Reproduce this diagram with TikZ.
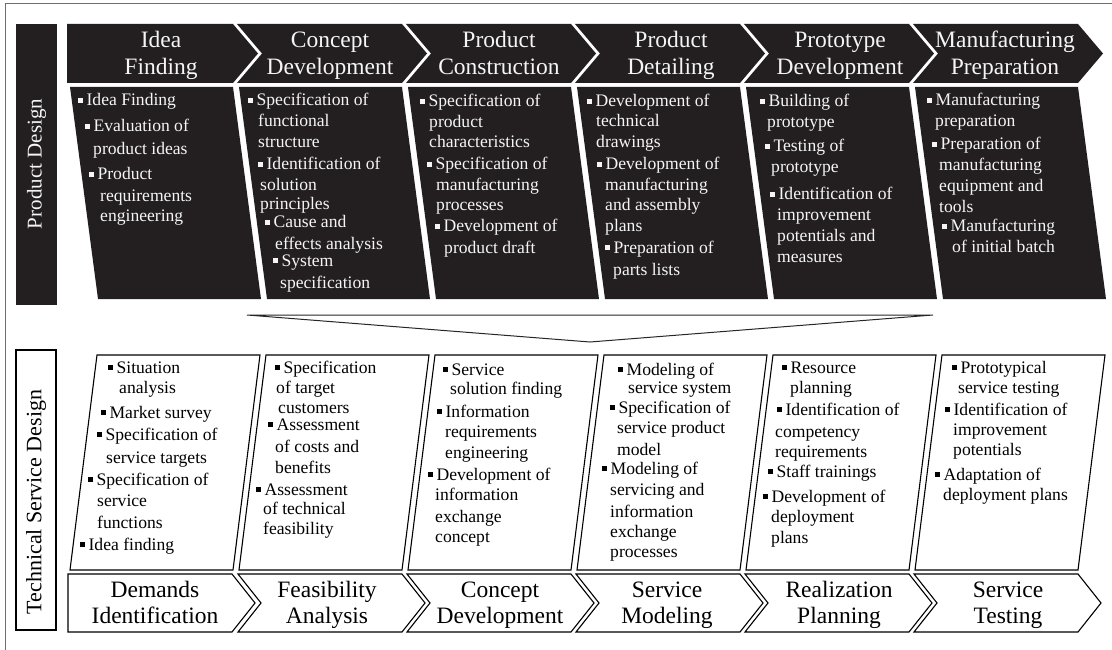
\documentclass[tikz,border=0pt]{standalone}
\usepackage{fontspec}
\setmainfont{Liberation Serif}
\definecolor{dk}{RGB}{35,31,32}
\definecolor{frm}{RGB}{110,110,110}
\definecolor{wt}{RGB}{245,245,245}
\newcommand\bl{\raisebox{3.3pt}{\rule{4.6pt}{4.6pt}}\hspace{3.8pt}}
\begin{document}
\begin{tikzpicture}[x=1pt,y=-1pt,
 wtxt/.style={anchor=base west,inner sep=0pt,text=wt,font=\fontsize{17.6}{21}\selectfont},
 btxt/.style={anchor=base west,inner sep=0pt,text=black,font=\fontsize{17.6}{21}\selectfont},
 whead/.style={anchor=base,inner sep=0pt,text=wt,font=\fontsize{23.5}{27}\selectfont},
 bhead/.style={anchor=base,inner sep=0pt,text=black,font=\fontsize{23.5}{27}\selectfont},
 dshape/.style={fill=dk,draw=none},
 lshape/.style={fill=white,draw=black,line width=1.1pt,line join=miter},
]
\useasboundingbox (0,0) rectangle (1112,650);
% outer frame
\draw[frm,line width=1.5pt] (5.5,650) -- (5.5,3.5) -- (1112,3.5);

% side labels
\fill[dk] (16,24) rectangle (57,305);
\node[rotate=90,text=wt,font=\fontsize{21}{24}\selectfont,inner sep=0pt] (pd) at (36.5,164) {Product Design};
\draw[black,line width=1.1pt,fill=white] (16,350) rectangle (56,630);
\node[rotate=90,text=black,font=\fontsize{22}{24}\selectfont,inner sep=0pt] (tsd) at (36,502) {Technical Service Design};

% top chevrons
\fill[dshape] (67,24) -- (233,24) -- (258,53.5) -- (233,83) -- (67,83) -- cycle;
\foreach \i in {1,...,5}{
  \pgfmathsetmacro\c{70+169*\i}
  \fill[dshape] (\c-2,24) -- (\c+163,24) -- (\c+188,53.5) -- (\c+163,83) -- (\c-2,83) -- (\c+23,53.5) -- cycle;
}
% top boxes
\foreach \i in {0,...,5}{
  \pgfmathsetmacro\c{70+169*\i}
  \fill[dshape] (\c,87) -- (\c+163,87) -- (\c+191,299) -- (\c+28,299) -- cycle;
}
% funnel
\draw[black!85,line width=1pt,line join=miter] (247,315) -- (933,315) -- (590,342) -- cycle;
% bottom boxes
\foreach \i in {0,...,5}{
  \pgfmathsetmacro\c{70+169*\i}
  \draw[lshape] (\c+27,355) -- (\c+190,355) -- (\c+163,570) -- (\c,570) -- cycle;
}
% bottom chevrons
\draw[lshape] (68,574) -- (232,574) -- (255,603) -- (232,632) -- (68,632) -- cycle;
\foreach \i in {1,...,5}{
  \pgfmathsetmacro\c{70+169*\i}
  \draw[lshape] (\c-1,574) -- (\c+163,574) -- (\c+186,603) -- (\c+163,632) -- (\c-1,632) -- (\c+22,603) -- cycle;
}

% headings
\foreach \x/\a/\b [count=\k] in {161/Idea/Finding,330/Concept/Development,499/Product/Construction,671/Product/Detailing,840/Prototype/Development,1005/Manufacturing/Preparation}{
  \node[whead] (tha\k) at (\x,48) {\a};
  \node[whead] (thb\k) at (\x,75) {\b};
}
\foreach \x/\a/\b [count=\k] in {155/Demands/Identification,327/Feasibility/Analysis,500/Concept/Development,667/Service/Modeling,839/Realization/Planning,1008/Service/Testing}{
  \node[bhead] (bha\k) at (\x,597) {\a};
  \node[bhead] (bhb\k) at (\x,623) {\b};
}

% top box 1
\node[wtxt] (a11) at (78,106) {\bl Idea Finding};
\node[wtxt] (a12) at (85,132) {\bl Evaluation of};
\node[wtxt] (a13) at (93,155) {product ideas};
\node[wtxt] (a14) at (89,180) {\bl Product};
\node[wtxt] (a15) at (100,201) {requirements};
\node[wtxt] (a16) at (100,222) {engineering};
% top box 2
\node[wtxt] (a21) at (248,106) {\bl Specification of};
\node[wtxt] (a22) at (258,127) {functional};
\node[wtxt] (a23) at (258,148) {structure};
\node[wtxt] (a24) at (258,170) {\bl Identification of};
\node[wtxt] (a25) at (260,191) {solution};
\node[wtxt] (a26) at (260,210) {principles};
\node[wtxt] (a27) at (265,228) {\bl Cause and};
\node[wtxt] (a28) at (275,249) {effects analysis};
\node[wtxt] (a29) at (273,266) {\bl System};
\node[wtxt] (a2a) at (280,288) {specification};
% top box 3
\node[wtxt] (a31) at (420,107) {\bl Specification of};
\node[wtxt] (a32) at (429,128) {product};
\node[wtxt] (a33) at (429,148) {characteristics};
\node[wtxt] (a34) at (427,170) {\bl Specification of};
\node[wtxt] (a35) at (436,190) {manufacturing};
\node[wtxt] (a36) at (436,211) {processes};
\node[wtxt] (a37) at (435,232) {\bl Development of};
\node[wtxt] (a38) at (444,253) {product draft};
% top box 4
\node[wtxt] (a41) at (587,107) {\bl Development of};
\node[wtxt] (a42) at (596,127) {technical};
\node[wtxt] (a43) at (596,148) {drawings};
\node[wtxt] (a44) at (597,170) {\bl Development of};
\node[wtxt] (a45) at (605,190) {manufacturing};
\node[wtxt] (a46) at (605,211) {and assembly};
\node[wtxt] (a47) at (605,231) {plans};
\node[wtxt] (a48) at (605,253) {\bl Preparation of};
\node[wtxt] (a49) at (613,275) {parts lists};
% top box 5
\node[wtxt] (a51) at (760,107) {\bl Building of};
\node[wtxt] (a52) at (767,128) {prototype};
\node[wtxt] (a53) at (765,152) {\bl Testing of};
\node[wtxt] (a54) at (771,173) {prototype};
\node[wtxt] (a55) at (770,200) {\bl Identification of};
\node[wtxt] (a56) at (777,220) {improvement};
\node[wtxt] (a57) at (777,241) {potentials and};
\node[wtxt] (a58) at (777,262) {measures};
% top box 6
\node[wtxt] (a61) at (927,106) {\bl Manufacturing};
\node[wtxt] (a62) at (935,127) {preparation};
\node[wtxt] (a63) at (932,150) {\bl Preparation of};
\node[wtxt] (a64) at (939,171) {manufacturing};
\node[wtxt] (a65) at (939,192) {equipment and};
\node[wtxt] (a66) at (939,212) {tools};
\node[wtxt] (a67) at (942,232) {\bl Manufacturing};
\node[wtxt] (a68) at (952,252) {of initial batch};

% bottom box 1
\node[btxt] (b11) at (108,373) {\bl Situation};
\node[btxt] (b12) at (119,393) {analysis};
\node[btxt] (b13) at (101,418) {\bl Market survey};
\node[btxt] (b14) at (97,440) {\bl Specification of};
\node[btxt] (b15) at (106,463) {service targets};
\node[btxt] (b16) at (88,485) {\bl Specification of};
\node[btxt] (b17) at (97,506) {service};
\node[btxt] (b18) at (97,528) {functions};
\node[btxt] (b19) at (80,550) {\bl Idea finding};
% bottom box 2
\node[btxt] (b21) at (275,373) {\bl Specification};
\node[btxt] (b22) at (276,393) {of target};
\node[btxt] (b23) at (278,413) {customers};
\node[btxt] (b24) at (268,430) {\bl Assessment};
\node[btxt] (b25) at (275,452) {of costs and};
\node[btxt] (b26) at (275,473) {benefits};
\node[btxt] (b27) at (256,495) {\bl Assessment};
\node[btxt] (b28) at (263,514) {of technical};
\node[btxt] (b29) at (263,534) {feasibility};
% bottom box 3
\node[btxt] (b31) at (443,375) {\bl Service};
\node[btxt] (b32) at (450,394) {solution finding};
\node[btxt] (b33) at (437,417) {\bl Information};
\node[btxt] (b34) at (445,437) {requirements};
\node[btxt] (b35) at (445,458) {engineering};
\node[btxt] (b36) at (428,480) {\bl Development of};
\node[btxt] (b37) at (435,500) {information};
\node[btxt] (b38) at (435,522) {exchange};
\node[btxt] (b39) at (435,542) {concept};
% bottom box 4
\node[btxt] (b41) at (618,375) {\bl Modeling of};
\node[btxt] (b42) at (628,393) {service system};
\node[btxt] (b43) at (610,413) {\bl Specification of};
\node[btxt] (b44) at (617,433) {service product};
\node[btxt] (b45) at (617,455) {model};
\node[btxt] (b46) at (602,474) {\bl Modeling of};
\node[btxt] (b47) at (610,495) {servicing and};
\node[btxt] (b48) at (610,517) {information};
\node[btxt] (b49) at (610,537) {exchange};
\node[btxt] (b4a) at (610,557) {processes};
% bottom box 5
\node[btxt] (b51) at (782,373) {\bl Resource};
\node[btxt] (b52) at (790,393) {planning};
\node[btxt] (b53) at (777,415) {\bl Identification of};
\node[btxt] (b54) at (775,437) {competency};
\node[btxt] (b55) at (775,457) {requirements};
\node[btxt] (b56) at (768,477) {\bl Staff trainings};
\node[btxt] (b57) at (763,502) {\bl Development of};
\node[btxt] (b58) at (771,522) {deployment};
\node[btxt] (b59) at (771,543) {plans};
% bottom box 6
\node[btxt] (b61) at (952,373) {\bl Prototypical};
\node[btxt] (b62) at (958,393) {service testing};
\node[btxt] (b63) at (945,415) {\bl Identification of};
\node[btxt] (b64) at (953,435) {improvement};
\node[btxt] (b65) at (953,455) {potentials};
\node[btxt] (b66) at (935,480) {\bl Adaptation of};
\node[btxt] (b67) at (943,500) {deployment plans};
\end{tikzpicture}
\end{document}
